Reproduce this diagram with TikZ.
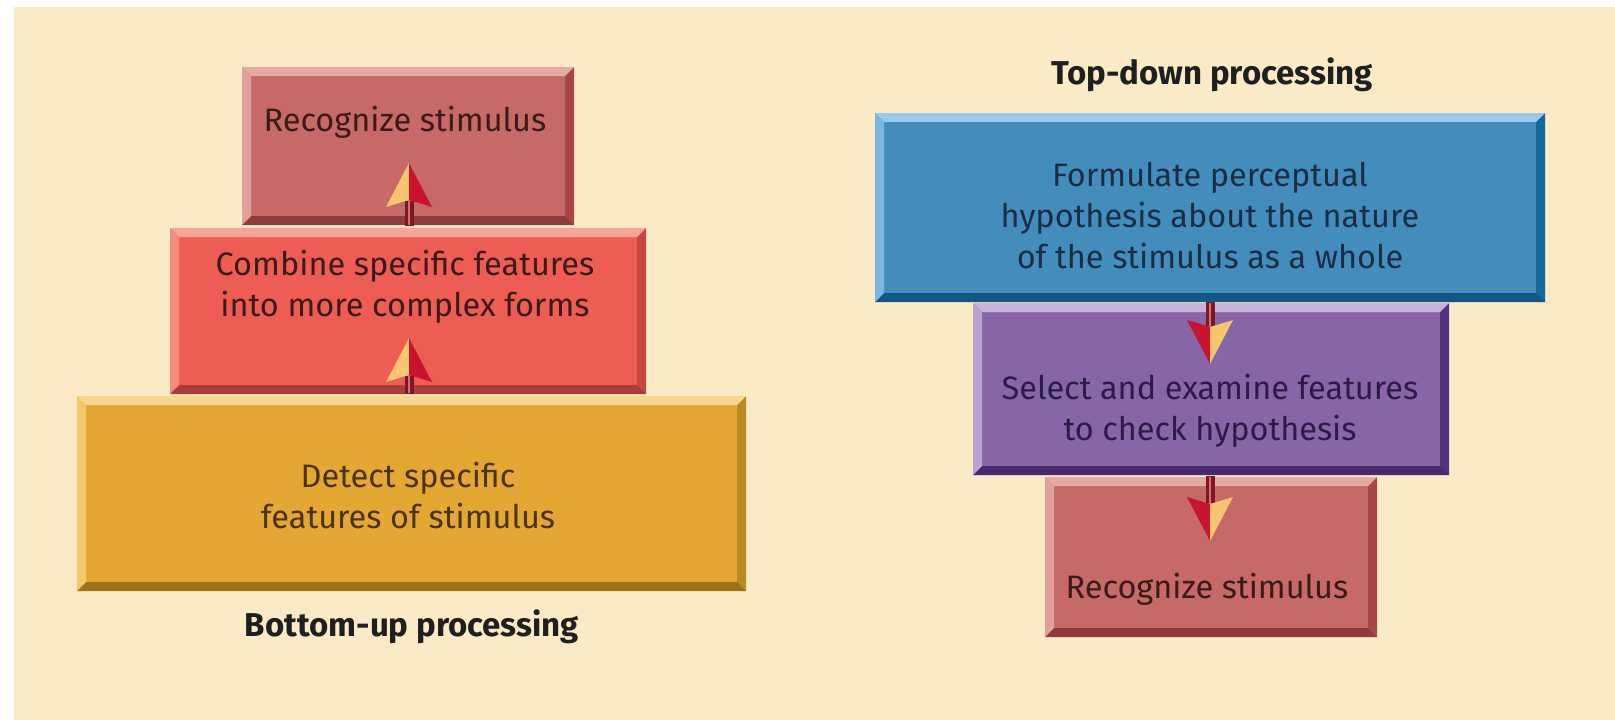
\documentclass[tikz,border=0pt]{standalone}
\usepackage{fontspec}
\setmainfont{Fira Sans}
\usetikzlibrary{calc}
\definecolor{bg}{HTML}{FAEAC5}
\definecolor{rmain}{HTML}{C66A68}\definecolor{rtop}{HTML}{E6AAA2}\definecolor{rleft}{HTML}{E0A19A}\definecolor{rdark}{HTML}{A84646}
\definecolor{cmain}{HTML}{EE5D53}\definecolor{ctop}{HTML}{F7A596}\definecolor{cleft}{HTML}{F48C7E}\definecolor{cdark}{HTML}{C9463E}
\definecolor{dmain}{HTML}{E4A832}\definecolor{dtop}{HTML}{F7D88E}\definecolor{dleft}{HTML}{F3C86A}\definecolor{ddark}{HTML}{B88A1F}
\definecolor{bmain}{HTML}{438DBD}\definecolor{btop}{HTML}{98CAEA}\definecolor{bleft}{HTML}{7DB6DE}\definecolor{bdark}{HTML}{14699C}
\definecolor{pmain}{HTML}{8567A6}\definecolor{ptop}{HTML}{C8B4DA}\definecolor{pleft}{HTML}{B9A4CF}\definecolor{pdark}{HTML}{55307F}
\definecolor{rtxt}{HTML}{3B1A1A}\definecolor{dtxt}{HTML}{4B3210}\definecolor{btxt}{HTML}{1B2D45}\definecolor{ptxt}{HTML}{2B1C47}
\definecolor{shaftdark}{HTML}{7E1626}\definecolor{shaftlight}{HTML}{D46F6F}
\definecolor{headred}{HTML}{C8142C}\definecolor{headlight}{HTML}{F7C56E}
\tikzset{
  bev/.style n args={4}{fill=#1, draw=none, inner sep=0pt, anchor=north west,
    path picture={
      \fill[#2] (path picture bounding box.north west) -- (path picture bounding box.north east)
        -- ([shift={(-9pt,-9pt)}]path picture bounding box.north east)
        -- ([shift={(9pt,-9pt)}]path picture bounding box.north west) -- cycle;
      \fill[#3] (path picture bounding box.north west)
        -- ([shift={(9pt,-9pt)}]path picture bounding box.north west)
        -- ([shift={(9pt,9pt)}]path picture bounding box.south west)
        -- (path picture bounding box.south west) -- cycle;
      \fill[#4] (path picture bounding box.north east) -- (path picture bounding box.south east)
        -- ([shift={(-9pt,9pt)}]path picture bounding box.south east)
        -- ([shift={(-9pt,-9pt)}]path picture bounding box.north east) -- cycle;
      \fill[#4!85!black] (path picture bounding box.south west) -- (path picture bounding box.south east)
        -- ([shift={(-9pt,9pt)}]path picture bounding box.south east)
        -- ([shift={(9pt,9pt)}]path picture bounding box.south west) -- cycle;
    }},
  txt/.style={align=center, font=\fontsize{32.5}{41}\selectfont, inner sep=0pt},
  ttl/.style={font=\fontsize{33}{36}\selectfont\bfseries, text=black!88, inner sep=0pt},
  shaft/.style={draw=shaftdark, line width=9pt},
  shaftin/.style={draw=shaftlight, line width=2.5pt},
}
\newcommand{\uparr}[2]{% start coordinate, tip coordinate
  \draw[shaft] (#1) -- ($(#2)+(0,38)$);
  \draw[shaftin] ($(#1)+(0,-1)$) -- ($(#2)+(0,38)$);
  \fill[headlight] (#2) -- ($(#2)+(-23,44)$) -- ($(#2)+(0,37)$) -- cycle;
  \fill[headred] (#2) -- ($(#2)+(23,44)$) -- ($(#2)+(0,37)$) -- cycle;
}
\newcommand{\downarr}[2]{%
  \draw[shaft] (#1) -- ($(#2)+(0,-38)$);
  \draw[shaftin] ($(#1)+(0,1)$) -- ($(#2)+(0,-38)$);
  \fill[headred] (#2) -- ($(#2)+(-23,-44)$) -- ($(#2)+(0,-37)$) -- cycle;
  \fill[headlight] (#2) -- ($(#2)+(23,-44)$) -- ($(#2)+(0,-37)$) -- cycle;
}
\begin{document}
\begin{tikzpicture}[x=1pt,y=-1pt]
\useasboundingbox (0,0) rectangle (1615,720);
\fill[white] (0,0) rectangle (1615,720);
\fill[bg] (14,7) rectangle (1615,720);

% ---------- Bottom-up ----------
\node[bev={rmain}{rtop}{rleft}{rdark}, minimum width=332pt, minimum height=158pt] (bu3) at (242,67) {};
\node[bev={cmain}{ctop}{cleft}{cdark}, minimum width=476pt, minimum height=166pt] (bu2) at (170,228) {};
\node[bev={dmain}{dtop}{dleft}{ddark}, minimum width=669pt, minimum height=195pt] (bu1) at (77,396) {};

\node[txt, text=rtxt] (bu3t) at (405,122) {Recognize stimulus};
\node[txt, text=rtxt] (bu2t) at (405,287) {Combine specific features\\into more complex forms};
\node[txt, text=dtxt] (bu1t) at (408,496) {Detect specific\\features of stimulus};
\node[ttl] (butitle) at (412,627) {Bottom-up processing};

\coordinate (a1s) at (409,226);
\coordinate (a1t) at (409,163);
\coordinate (a2s) at (409,394);
\coordinate (a2t) at (409,338);
\uparr{a1s}{a1t}
\uparr{a2s}{a2t}

% ---------- Top-down ----------
\node[ttl] (tdtitle) at (1212,75) {Top-down processing};
\node[bev={bmain}{btop}{bleft}{bdark}, minimum width=670pt, minimum height=189pt] (td1) at (875,113) {};
\node[bev={pmain}{ptop}{pleft}{pdark}, minimum width=476pt, minimum height=172pt] (td2) at (973,303) {};
\node[bev={rmain}{rtop}{rleft}{rdark}, minimum width=332pt, minimum height=160pt] (td3) at (1045,477) {};

\node[txt, text=btxt] (td1t) at (1210,216) {Formulate perceptual\\hypothesis about the nature\\of the stimulus as a whole};
\node[txt, text=ptxt] (td2t) at (1210,411) {Select and examine features\\to check hypothesis};
\node[txt, text=rtxt] (td3t) at (1207,589) {Recognize stimulus};

\coordinate (b1s) at (1210,302);
\coordinate (b1t) at (1210,364);
\coordinate (b2s) at (1210,476);
\coordinate (b2t) at (1210,541);
\downarr{b1s}{b1t}
\downarr{b2s}{b2t}
\end{tikzpicture}
\end{document}
